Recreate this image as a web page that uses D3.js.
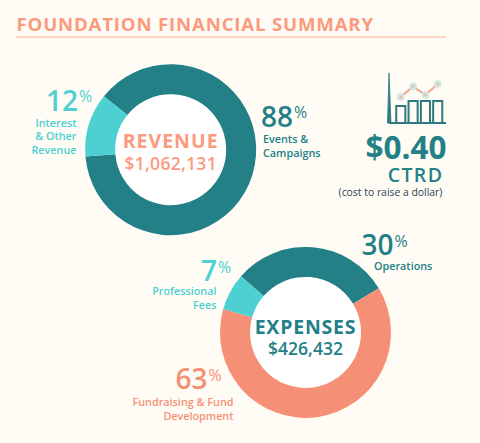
<!DOCTYPE html>
<html>
<head>
<meta charset="utf-8">
<script src="https://cdnjs.cloudflare.com/ajax/libs/d3/7.8.5/d3.min.js"></script>
<style>
html,body{margin:0;padding:0;background:#fffcf5;}
svg{display:block;}
text{font-family:"Open Sans","Noto Sans",sans-serif;}
</style>
</head>
<body>
<svg id="chart" width="480" height="443"></svg>
<script>
const TEAL = "#238087", CYAN = "#4dd0d2", SALMON = "#f59077";

// Foundation figures
const revenueCategories = ["Events & Campaigns", "Interest & Other Revenue"];
const revenueValues = [88, 12];
const expenseCategories = ["Operations", "Fundraising & Fund Development", "Professional Fees"];
const expenseValues = [30, 63, 7];

// Small trend icon beside the CTRD figure
const iconBars = [17, 22, 22, 22];
const iconLine = [26, 36.5, 28, 39];

const svg = d3.select("#chart");
const deg = Math.PI / 180;

// Title and rule
svg.append("text").attr("x", 16.5).attr("y", 31)
  .attr("font-size", 18.6).attr("font-weight", 700).attr("letter-spacing", 0.83)
  .attr("fill", "#fb9a7e").text("FOUNDATION FINANCIAL SUMMARY");
svg.append("line").attr("x1", 16).attr("x2", 446).attr("y1", 37).attr("y2", 37)
  .attr("stroke", "#fbb196").attr("stroke-width", 1);

function donut(cx, cy, values, colors, startDeg) {
  const pie = d3.pie().sort(null).startAngle(startDeg * deg).endAngle((startDeg + 360) * deg);
  const arc = d3.arc().innerRadius(55.5).outerRadius(85.5);
  const g = svg.append("g").attr("transform", `translate(${cx},${cy})`);
  g.append("circle").attr("r", 56).attr("fill", "#fff");
  g.selectAll("path").data(pie(values)).join("path")
    .attr("d", arc).attr("fill", (d, i) => colors[i]);
}
donut(170.7, 149.7, revenueValues, [TEAL, CYAN], 308.6);
donut(305.5, 332.4, expenseValues, [TEAL, SALMON, CYAN], 311);

function label(x, y, text, size, weight, color, anchor, spacing) {
  return svg.append("text").attr("x", x).attr("y", y).attr("font-size", size)
    .attr("font-weight", weight).attr("fill", color).attr("text-anchor", anchor || "start")
    .attr("letter-spacing", spacing || 0).text(text);
}

// Big percentage with a small raised % sign; x is the number's left edge
function percent(x, y, value, color) {
  const t = label(x, y, value, 28, 600, color);
  const w = t.node().getComputedTextLength();
  label(x + w + 1, y - 8.5, "%", 16, 400, color);
}

// Centre captions
label(170.7, 148, "REVENUE", 19.5, 700, "#fb9a7e", "middle", 1.0);
label(170.7, 169.5, "$1,062,131", 17.5, 600, "#fb9a7e", "middle", 0.3);
label(305.5, 333.5, "EXPENSES", 19.5, 700, TEAL, "middle", 0.8);
label(305.5, 355, "$426,432", 17.5, 600, TEAL, "middle", 0);

// Revenue labels
percent(46, 110.5, revenueValues[1], CYAN);
label(76.5, 127, "Interest", 10.8, 600, CYAN, "end");
label(76.5, 140, "& Other", 10.8, 600, CYAN, "end");
label(76.5, 153.5, "Revenue", 10.8, 600, CYAN, "end");
percent(261, 126.7, revenueValues[0], TEAL);
label(263, 143, "Events &", 10.8, 600, TEAL);
label(263, 157, "Campaigns", 10.8, 600, TEAL);

// Expense labels
percent(361.5, 255, expenseValues[0], TEAL);
label(374, 270, "Operations", 10.8, 600, TEAL);
percent(201, 281, expenseValues[2], CYAN);
label(216.5, 295, "Professional", 10.8, 600, CYAN, "end");
label(216.5, 309, "Fees", 10.8, 600, CYAN, "end");
percent(175.5, 389.3, expenseValues[1], SALMON);
label(233.5, 406, "Fundraising & Fund", 10.8, 600, SALMON, "end");
label(233.5, 420, "Development", 10.8, 600, SALMON, "end");

// CTRD block
label(406, 159, "$0.40", 31.5, 700, TEAL, "middle");
label(415.5, 181.5, "CTRD", 19.5, 600, TEAL, "middle", 1.4);
label(390.5, 196, "(cost to raise a dollar)", 10.4, 400, "#2c3e50", "middle");

// Trend icon
const ix = d3.scaleBand().domain(d3.range(iconBars.length)).range([395, 443.5]).paddingInner(0.26).paddingOuter(0.1);
const iy = d3.scaleLinear().domain([0, 50]).range([123, 73]);
const icon = svg.append("g");
icon.selectAll("rect").data(iconBars).join("rect")
  .attr("x", (d, i) => ix(i)).attr("width", ix.bandwidth())
  .attr("y", d => iy(d)).attr("height", d => iy(0) - iy(d))
  .attr("fill", "none").attr("stroke", "#2f7a80").attr("stroke-width", 2);
icon.append("line").attr("x1", 389).attr("x2", 446).attr("y1", iy(0)).attr("y2", iy(0))
  .attr("stroke", "#2f7a80").attr("stroke-width", 2);
icon.append("path").attr("d", `M387.5 ${iy(0)}L389 ${iy(50)}L391 ${iy(0)}Z`)
  .attr("fill", "#2f7a80").attr("stroke", "#2f7a80").attr("stroke-width", 0.8);
const centre = i => ix(i) + ix.bandwidth() / 2;
icon.append("path").datum(iconLine)
  .attr("d", d3.line().x((d, i) => centre(i)).y(d => iy(d)))
  .attr("fill", "none").attr("stroke", "#f7a48c").attr("stroke-width", 2);
icon.selectAll("circle.halo").data(iconLine).join("circle").attr("class", "halo")
  .attr("cx", (d, i) => centre(i)).attr("cy", d => iy(d)).attr("r", 3.8).attr("fill", "#cfe6df");
icon.selectAll("circle.dot").data(iconLine).join("circle").attr("class", "dot")
  .attr("cx", (d, i) => centre(i)).attr("cy", d => iy(d)).attr("r", 1).attr("fill", "#f7a48c");
</script>
</body>
</html>
